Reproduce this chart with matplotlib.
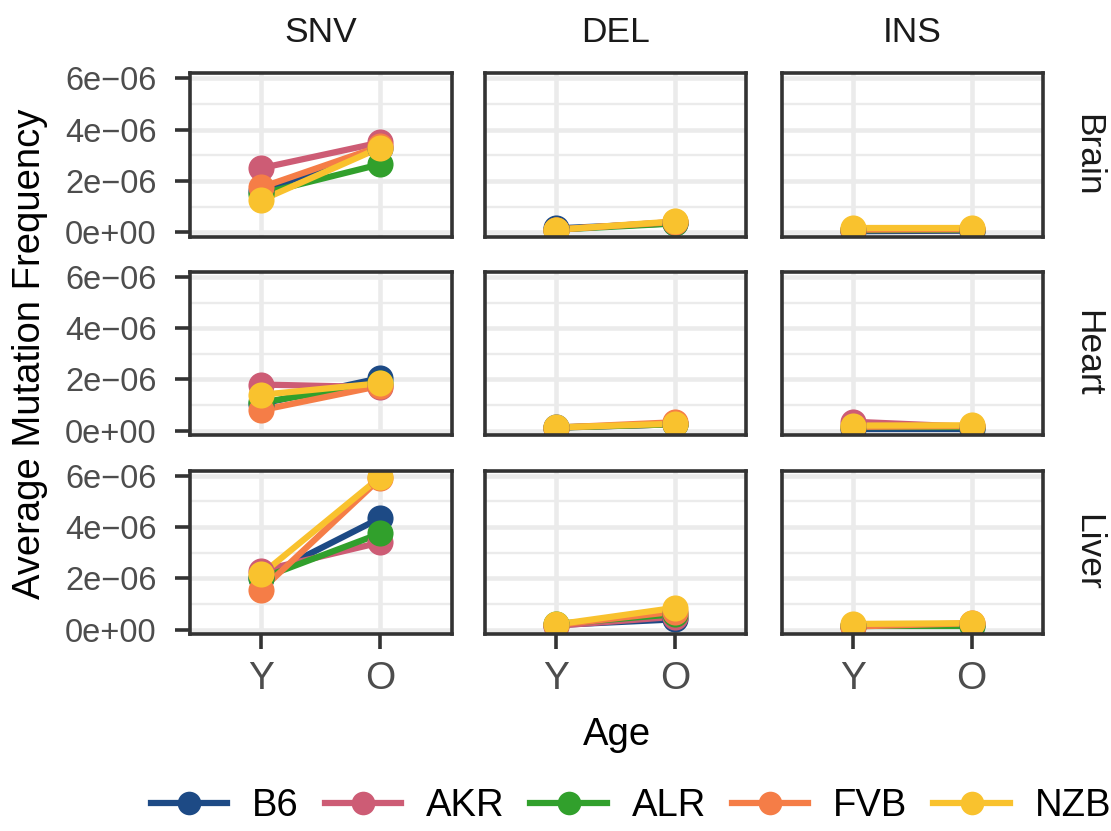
import numpy as np
import matplotlib
matplotlib.use("Agg")
import matplotlib.pyplot as plt
from matplotlib.lines import Line2D

plt.rcParams['font.family'] = ['Liberation Sans', 'DejaVu Sans']

strains = ['B6', 'AKR', 'ALR', 'FVB', 'NZB']
strain_colors = ['#1d4a85', '#cd5c75', '#31a02c', '#f57d47', '#f9c22e']
mut_types = ['SNV', 'DEL', 'INS']
tissues = ['Brain', 'Heart', 'Liver']
ages = ['Y', 'O']

# average mutation frequency (x 1e-6); rows = SNV, DEL, INS; columns = strains
brain_young = [[1.60, 2.50, 1.50, 1.75, 1.25],
               [0.15, 0.10, 0.10, 0.10, 0.10],
               [0.04, 0.10, 0.08, 0.10, 0.16]]
brain_old = [[3.30, 3.50, 2.65, 3.35, 3.30],
             [0.35, 0.40, 0.34, 0.40, 0.42],
             [0.06, 0.10, 0.10, 0.12, 0.16]]
heart_young = [[1.05, 1.80, 1.10, 0.80, 1.40],
               [0.13, 0.12, 0.12, 0.12, 0.13],
               [0.05, 0.35, 0.15, 0.15, 0.20]]
heart_old = [[2.05, 1.70, 1.85, 1.75, 1.85],
             [0.25, 0.25, 0.25, 0.33, 0.27],
             [0.05, 0.15, 0.15, 0.18, 0.21]]
liver_young = [[2.00, 2.30, 2.00, 1.55, 2.15],
               [0.18, 0.15, 0.22, 0.18, 0.20],
               [0.15, 0.15, 0.15, 0.12, 0.22]]
liver_old = [[4.35, 3.40, 3.75, 5.90, 5.95],
             [0.40, 0.50, 0.60, 0.70, 0.85],
             [0.18, 0.20, 0.15, 0.25, 0.25]]

y_ticks = [0, 2e-6, 4e-6, 6e-6]
y_ticklabels = ['0e+00', '2e\u221206', '4e\u221206', '6e\u221206']

young = [brain_young, heart_young, liver_young]
old = [brain_old, heart_old, liver_old]

W, H = 1111, 831
fig = plt.figure(figsize=(W / 100, H / 100), dpi=100)

col_left = [190, 485, 781.5]
row_top = [73.3, 271.8, 470.7]
pw, ph = 261.5, 163.5

grid_col = '#ebebeb'
border_col = '#333333'
tick_col = '#4d4d4d'
lw = 4.5
ms = 18.8

for r, tissue in enumerate(tissues):
    for c, mt in enumerate(mut_types):
        ax = fig.add_axes([col_left[c] / W, 1 - (row_top[r] + ph) / H, pw / W, ph / H])
        x = np.arange(1, len(ages) + 1)
        # lines first, points on top
        for s, name in enumerate(strains):
            vals = np.array([young[r][c][s], old[r][c][s]]) * 1e-6
            ax.plot(x, vals, color=strain_colors[s], lw=lw, solid_capstyle='butt', zorder=3)
        for s, name in enumerate(strains):
            vals = np.array([young[r][c][s], old[r][c][s]]) * 1e-6
            ax.plot(x, vals, 'o', color=strain_colors[s], ms=ms, mew=0, zorder=4)

        ax.set_xlim(0.4, 2.6)
        ax.set_ylim(-0.18e-6, 6.2e-6)
        ax.set_xticks(x)
        ax.set_yticks(y_ticks)
        ax.set_yticks([1e-6, 3e-6, 5e-6], minor=True)
        ax.grid(True, which='major', color=grid_col, lw=3.3, zorder=0)
        ax.grid(True, which='minor', axis='y', color=grid_col, lw=1.7, zorder=0)
        ax.set_axisbelow(True)
        for sp in ax.spines.values():
            sp.set_color(border_col)
            sp.set_linewidth(2.6)
            sp.set_zorder(5)

        ax.tick_params(which='minor', length=0)
        ax.tick_params(which='major', color=border_col, width=2.6, length=11)
        if c == 0:
            ax.set_yticklabels(y_ticklabels, fontsize=23.5, color=tick_col)
            ax.tick_params(axis='y', pad=13)
        else:
            ax.tick_params(axis='y', length=0, labelleft=False)
        if r == 2:
            ax.set_xticklabels(ages, fontsize=28, color=tick_col)
            ax.tick_params(axis='x', pad=8)
        else:
            ax.tick_params(axis='x', length=0, labelbottom=False)

        if r == 0:
            ax.text(0.5, 1.0 + 41 / ph, mt, transform=ax.transAxes, ha='center',
                    va='center', fontsize=25.5, color='#1a1a1a')
        if c == 2:
            ax.text(1.0 + 45 / pw, 0.5, tissue, transform=ax.transAxes, ha='center',
                    va='center', rotation=-90, fontsize=25.5, color='#1a1a1a')

fig.text(30 / W, 1 - 354 / H, 'Average Mutation Frequency', rotation=90,
         ha='center', va='center', fontsize=27.5)
fig.text(617 / W, 1 - 735 / H, 'Age', ha='center', va='center', fontsize=27.5)

handles = [Line2D([0], [0], color=col, lw=lw, marker='o', ms=17, mew=0)
           for col in strain_colors]
fig.legend(handles, strains, loc='center', bbox_to_anchor=(631 / W, 1 - 806 / H),
           ncol=5, frameon=False, fontsize=27.5, handlelength=2.0,
           columnspacing=0.68, handletextpad=0.65, borderpad=0, borderaxespad=0)

fig.savefig('out.png', dpi=100)
